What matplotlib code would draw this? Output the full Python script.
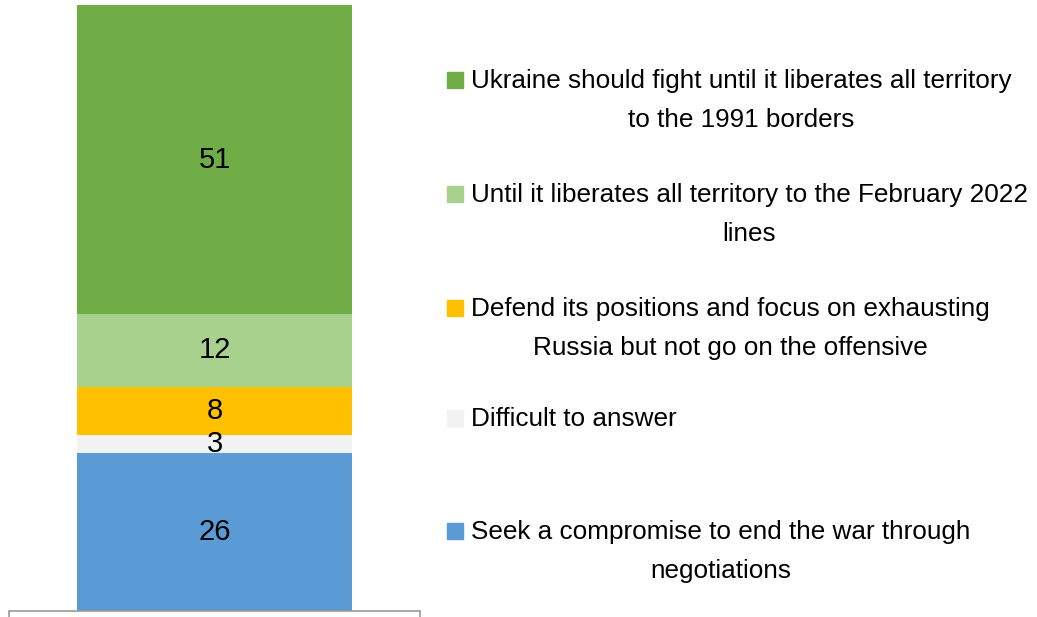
import matplotlib.pyplot as plt
from matplotlib.patches import Rectangle

plt.rcParams['font.family'] = ['Liberation Sans', 'DejaVu Sans']

# stacked from bottom to top
categories = [
    "Seek a compromise to end the war through\nnegotiations",
    "Difficult to answer",
    "Defend its positions and focus on exhausting\nRussia but not go on the offensive",
    "Until it liberates all territory to the February 2022\nlines",
    "Ukraine should fight until it liberates all territory\nto the 1991 borders",
]
values = [26, 3, 8, 12, 51]
colors = ["#5B9BD5", "#F2F2F2", "#FFC000", "#A9D18E", "#70AD47"]

W, H = 1037, 617
fig = plt.figure(figsize=(W / 100, H / 100), dpi=100)
ax = fig.add_axes([9 / W, 6 / H, 411 / W, 606 / H])

bottom = 0
for v, c in zip(values, colors):
    ax.bar(0, v, bottom=bottom, width=0.669, color=c)
    ax.text(0, bottom + v / 2, str(v), ha='center', va='center', fontsize=21)
    bottom += v

ax.set_xlim(-0.5, 0.5)
ax.set_ylim(0, 100)
for s in ['top', 'left', 'right']:
    ax.spines[s].set_visible(False)
ax.spines['bottom'].set_color('#999999')
ax.spines['bottom'].set_linewidth(1.2)
ax.set_yticks([])
ax.set_xticks([-0.5, 0.5])
ax.set_xticklabels([])
ax.tick_params(axis='x', direction='out', length=5, color='#999999', width=1.2)

# legend, drawn top entry first
baselines = [88, 202, 316, 426, 539]  # first-line baselines in pixels
line_gap = 39
for lab, c, y in zip(categories[::-1], colors[::-1], baselines):
    fig.add_artist(Rectangle((447 / W, 1 - y / H), 16 / W, 16 / H,
                             transform=fig.transFigure, color=c))
    # va='baseline' pins the last line, so shift by the extra lines
    last = y + line_gap * lab.count("\n")
    fig.text(471 / W, 1 - last / H, lab, ha='left', va='baseline',
             multialignment='center', fontsize=18.8, linespacing=1.79)

fig.savefig("out.png", dpi=100)
